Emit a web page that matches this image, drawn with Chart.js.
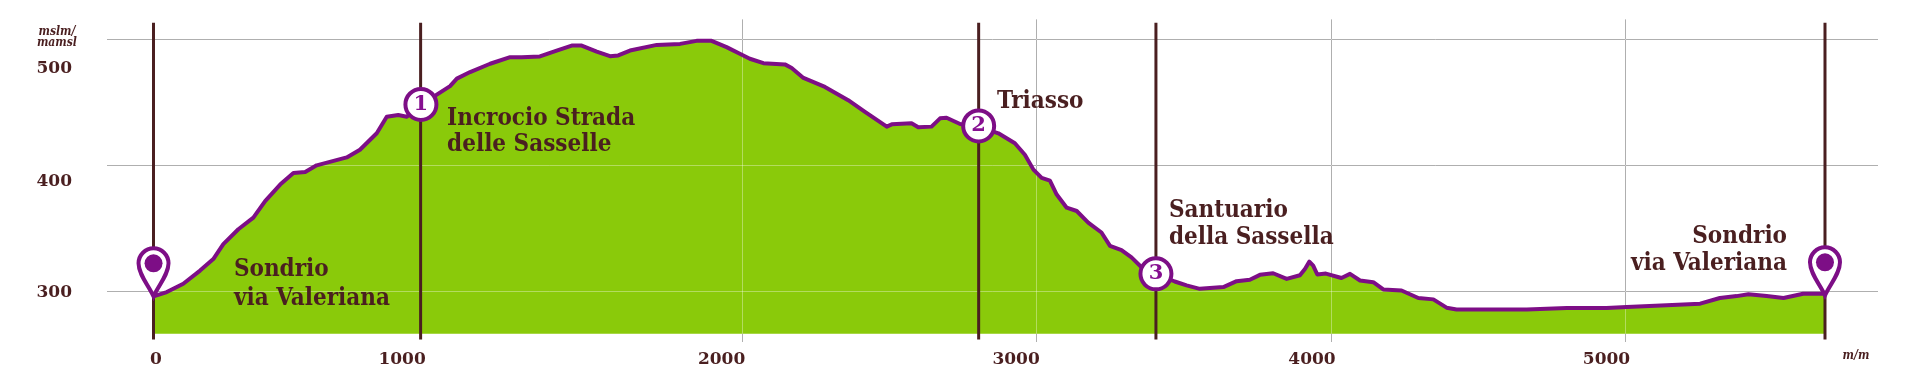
<!DOCTYPE html>
<html>
<head>
<meta charset="utf-8">
<script src="https://cdn.jsdelivr.net/npm/chart.js@4"></script>
<style>
    html, body { margin: 0; padding: 0; background: #fff; }
    canvas { display: block; }
</style>
</head>
<body>
<canvas id="chart" width="1920" height="376"></canvas>
<script>
// profilo altimetrico (metri, m s.l.m.)
const distance = [0, 45, 101, 158, 203, 237, 288, 339, 379, 430, 475, 515, 554, 605, 656, 701, 758, 792, 831, 860, 908, 962, 1007, 1030, 1075, 1143, 1211, 1250, 1312, 1369, 1420, 1454, 1505, 1550, 1578, 1618, 1709, 1788, 1844, 1895, 1946, 1991, 2025, 2071, 2144, 2167, 2207, 2280, 2359, 2416, 2490, 2507, 2574, 2597, 2642, 2671, 2693, 2739, 2802, 2869, 2925, 2959, 2988, 3016, 3044, 3067, 3101, 3135, 3174, 3219, 3248, 3287, 3321, 3361, 3405, 3468, 3508, 3553, 3633, 3678, 3723, 3757, 3802, 3848, 3893, 3910, 3925, 3938, 3952, 3981, 4034, 4063, 4097, 4142, 4176, 4238, 4295, 4346, 4391, 4425, 4663, 4799, 4934, 5003, 5138, 5252, 5319, 5376, 5416, 5478, 5535, 5602, 5676];
const elevation = [295.8, 299.2, 305.8, 316.3, 325.5, 337.4, 349.2, 358.4, 371.6, 384.7, 393.9, 394.7, 400, 403.2, 406.3, 412.4, 425.5, 438.7, 440, 438.7, 447.9, 456.3, 463, 469, 474.2, 480.8, 486, 486, 486.6, 491.3, 495.3, 495.3, 490.5, 486.8, 487.4, 491.3, 495.8, 496.6, 499, 499, 494, 488.7, 484.8, 481.3, 480.3, 477.4, 469.5, 462.4, 451.8, 442.6, 430.8, 432.6, 433.4, 430.3, 430.8, 437.4, 437.9, 432.9, 430.8, 425.5, 417.6, 408.4, 396.6, 390, 387.8, 376.8, 366.3, 363.7, 354.5, 346.6, 336, 332.6, 326.8, 317.6, 313.7, 307.6, 304.5, 301.8, 303.2, 307.9, 309, 312.9, 314.2, 309.7, 312.6, 317.6, 323.4, 320.3, 313.2, 313.9, 310.4, 313.7, 308.4, 307.1, 301.3, 300.5, 294.5, 293.4, 286.8, 285.3, 285.3, 286.6, 286.6, 287.4, 288.7, 290, 294.5, 296, 297.4, 296, 294.5, 297.9, 297.9];
const baseElevation = 266;

// griglia e assi
const xGrid = [2000, 3000, 4000, 5000];
const yGrid = [300, 400, 500];
const xTickLabels = ['0', '1000', '2000', '3000', '4000', '5000', 'm/m'];
const xTickAnchors = [8, 844, 1929, 2929, 3934, 4934, 5781];
const yTickLabels = ['500', '400', '300'];
const yTickAnchors = [477.3, 387.4, 299.2];

// tappe
const stopDistance = [908, 2802, 3404];
const stopElevation = [448.4, 431.3, 313.7];
const stopNumbers = ['1', '2', '3'];
const poleDistance = [0, 907, 2802, 3404, 5676];
const pinDistance = [0, 5676];
const pinElevation = [295.8, 296.6];

// testi: riga, distanza, quota, allineamento
const placeTexts = ['Sondrio', 'via Valeriana', 'Incrocio Strada', 'delle Sasselle', 'Triasso', 'Santuario', 'della Sassella', 'Sondrio', 'via Valeriana'];
const placeDistance = [273, 273, 997, 997, 2864, 3448, 3448, 5547, 5547];
const placeElevation = [317.1, 294.2, 437.3, 416.1, 450.5, 363.7, 342.4, 343.2, 321.9];
const placeAlign = ['left', 'left', 'left', 'left', 'left', 'left', 'left', 'right', 'right'];
const unitTexts = ['mslm/', 'mamsl'];
const unitDistance = [-328, -328];
const unitElevation = [505.8, 497.4];

const brown = '#4a1f20';
const purple = '#7d0e86';
const green = '#8aca0a';
const xMin = -158, xMax = 5856, yMin = 259.5, yMax = 516;

const profile = distance.map((d, i) => ({ x: d, y: elevation[i] }));

// pali verticali: un segmento per tappa, separati da un buco
const poles = [];
poleDistance.forEach(d => {
    poles.push({ x: d, y: 261.5 }, { x: d, y: 513.5 }, { x: d, y: null });
});

// niente margini automatici dalle etichette, l'area del grafico resta fissa
const noPadding = axis => {
    axis.paddingTop = 0;
    axis.paddingBottom = 0;
    axis.paddingLeft = 0;
    axis.paddingRight = 0;
};

// stesso arrotondamento delle linee di griglia di Chart.js
const alignPx = p => Math.round(p - 0.5) + 0.5;

// la griglia si schiarisce sopra il verde
const gridOverGreen = {
    id: 'gridOverGreen',
    afterDatasetDraw(chart, args) {
        if (args.index !== 0) return;
        const { ctx, scales: { x, y } } = chart;
        ctx.save();
        ctx.strokeStyle = 'rgba(255,255,255,0.35)';
        ctx.lineWidth = 1;
        ctx.beginPath();
        xGrid.forEach(v => {
            ctx.moveTo(alignPx(x.getPixelForValue(v)), chart.chartArea.top);
            ctx.lineTo(alignPx(x.getPixelForValue(v)), chart.chartArea.bottom);
        });
        yGrid.forEach(v => {
            ctx.moveTo(chart.chartArea.left, alignPx(y.getPixelForValue(v)));
            ctx.lineTo(chart.chartArea.right, alignPx(y.getPixelForValue(v)));
        });
        ctx.stroke();
        ctx.restore();
    }
};

const overlays = {
    id: 'overlays',
    afterDatasetsDraw(chart) {
        const { ctx, scales: { x, y } } = chart;
        ctx.save();
        // segnaposto partenza / arrivo
        pinDistance.forEach((d, i) => {
            const px = x.getPixelForValue(d), tip = y.getPixelForValue(pinElevation[i]);
            const cy = tip - 33, r = 15;
            ctx.beginPath();
            ctx.moveTo(px, tip);
            ctx.bezierCurveTo(px - 5, tip - 11, px - r, cy + 11, px - r, cy);
            ctx.arc(px, cy, r, Math.PI, 0);
            ctx.bezierCurveTo(px + r, cy + 11, px + 5, tip - 11, px, tip);
            ctx.closePath();
            ctx.fillStyle = '#fff';
            ctx.fill();
            ctx.strokeStyle = purple;
            ctx.lineWidth = 4;
            ctx.lineJoin = 'miter';
            ctx.stroke();
            ctx.beginPath();
            ctx.arc(px, cy, 9, 0, Math.PI * 2);
            ctx.fillStyle = purple;
            ctx.fill();
        });
        ctx.textBaseline = 'middle';
        // numeri delle tappe
        ctx.textAlign = 'center';
        ctx.fillStyle = '#860f90';
        ctx.font = 'bold 21px "DejaVu Serif"';
        stopNumbers.forEach((t, i) => {
            ctx.fillText(t, x.getPixelForValue(stopDistance[i]), y.getPixelForValue(stopElevation[i]));
        });
        // nomi dei luoghi
        ctx.fillStyle = brown;
        ctx.font = 'bold 24px "DejaVu Serif Condensed"';
        placeTexts.forEach((t, i) => {
            ctx.textAlign = placeAlign[i];
            ctx.fillText(t, x.getPixelForValue(placeDistance[i]), y.getPixelForValue(placeElevation[i]));
        });
        // unita' asse y
        ctx.textAlign = 'center';
        ctx.font = 'italic bold 12px "DejaVu Serif Condensed"';
        unitTexts.forEach((t, i) => {
            ctx.fillText(t, x.getPixelForValue(unitDistance[i]), y.getPixelForValue(unitElevation[i]));
        });
        ctx.restore();
    }
};

const config = {
    type: 'line',
    data: {
        datasets: [
            {
                label: 'area',
                data: profile,
                borderWidth: 0,
                backgroundColor: green,
                fill: { value: baseElevation },
                pointRadius: 0,
                order: 5
            },
            {
                label: 'pali',
                data: poles,
                borderColor: brown,
                borderWidth: 3,
                borderCapStyle: 'butt',
                spanGaps: false,
                pointRadius: 0,
                fill: false,
                order: 4
            },
            {
                label: 'profilo',
                data: profile,
                borderColor: purple,
                borderWidth: 4,
                borderJoinStyle: 'round',
                pointRadius: 0,
                fill: false,
                order: 3
            },
            {
                label: 'tappe',
                data: stopDistance.map((d, i) => ({ x: d, y: stopElevation[i] })),
                showLine: false,
                pointRadius: 15.5,
                pointBorderWidth: 4,
                pointBackgroundColor: '#fff',
                pointBorderColor: purple,
                order: 2
            }
        ]
    },
    options: {
        responsive: false,
        animation: false,
        layout: { padding: { top: 17, right: 42, bottom: 0, left: 0 } },
        plugins: { legend: { display: false }, tooltip: { enabled: false } },
        scales: {
            x: {
                type: 'linear', min: xMin, max: xMax,
                position: 'bottom',
                afterBuildTicks: axis => { axis.ticks = xGrid.map(v => ({ value: v })); },
                afterFit: axis => { axis.height = 0; noPadding(axis); },
                ticks: { display: false },
                border: { display: false },
                grid: { color: '#858585', lineWidth: 1, drawTicks: false }
            },
            xLabels: {
                type: 'linear', min: xMin, max: xMax,
                position: 'bottom',
                afterBuildTicks: axis => { axis.ticks = xTickAnchors.map(v => ({ value: v })); },
                afterFit: axis => { axis.height = 34; noPadding(axis); },
                border: { display: false },
                grid: { display: false, drawTicks: false },
                ticks: {
                    autoSkip: false, maxRotation: 0, padding: 7,
                    color: brown,
                    font: ctx => ctx.index === 6
                        ? { family: '"DejaVu Serif Condensed"', size: 12, weight: 'bold', style: 'italic' }
                        : { family: '"DejaVu Serif"', size: 17, weight: 'bold' },
                    callback: (value, i) => xTickLabels[i]
                }
            },
            y: {
                type: 'linear', min: yMin, max: yMax,
                position: 'left',
                afterBuildTicks: axis => { axis.ticks = yGrid.map(v => ({ value: v })); },
                afterFit: axis => { axis.width = 0; noPadding(axis); },
                ticks: { display: false },
                border: { display: false },
                grid: { color: '#858585', lineWidth: 1, drawTicks: false }
            },
            yLabels: {
                type: 'linear', min: yMin, max: yMax,
                position: 'left',
                afterBuildTicks: axis => { axis.ticks = yTickAnchors.map(v => ({ value: v })); },
                afterFit: axis => { axis.width = 107; noPadding(axis); },
                border: { display: false },
                grid: { display: false, drawTicks: false },
                ticks: {
                    autoSkip: false, padding: 35,
                    color: brown,
                    font: { family: '"DejaVu Serif"', size: 17, weight: 'bold' },
                    callback: (value, i) => yTickLabels[i]
                }
            }
        }
    },
    plugins: [gridOverGreen, overlays]
};

const myChart = new Chart(document.getElementById('chart'), config);
</script>
</body>
</html>
